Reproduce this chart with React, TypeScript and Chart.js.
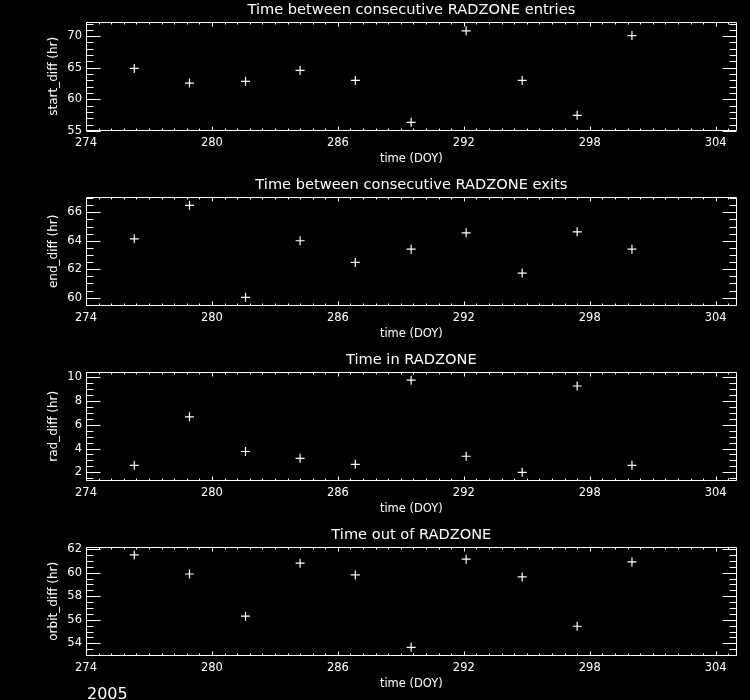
import React, { useEffect, useRef } from "react";
import { Chart, registerables } from "chart.js";

Chart.register(...registerables);

// ---- data ----
const DOY = [276.3, 278.93, 281.6, 284.2, 286.83, 289.49, 292.11, 294.78, 297.4, 300.01];
const START_DIFF = [64.9, 62.58, 62.85, 64.58, 63.0, 56.37, 70.84, 63.0, 57.48, 70.1];
const END_DIFF = [64.14, 66.49, 60.03, 64.0, 62.48, 63.41, 64.56, 61.73, 64.63, 63.41];
const RAD_DIFF = [2.59, 6.67, 3.75, 3.18, 2.67, 9.75, 3.35, 2.0, 9.26, 2.59];
const ORBIT_DIFF = [61.51, 59.89, 56.31, 60.81, 59.81, 53.66, 61.15, 59.64, 55.45, 60.92];

const X_TICKS = [274, 280, 286, 292, 298, 304];
const X_RANGE = [274, 305];
const X_MINOR = 0.6;

const TITLES = [
  "Time between consecutive RADZONE entries",
  "Time between consecutive RADZONE exits",
  "Time in RADZONE",
  "Time out of RADZONE",
];
const Y_LABELS = ["start_diff (hr)", "end_diff (hr)", "rad_diff (hr)", "orbit_diff (hr)"];
const Y_TICKS = [
  [55, 60, 65, 70],
  [60, 62, 64, 66],
  [2, 4, 6, 8, 10],
  [54, 56, 58, 60, 62],
];
const Y_RANGES = [
  [55, 72.3],
  [59.42, 67.1],
  [1.27, 10.47],
  [52.92, 62.22],
];
const Y_MINOR = [1, 0.5, 0.5, 0.5];
const SERIES = [START_DIFF, END_DIFF, RAD_DIFF, ORBIT_DIFF];
const YEAR_LABEL = "2005";

const FONT = "DejaVu Sans";
const W = 750;
const H = 175;

function makeFramePlugin(idx: number) {
  const yMinor = Y_MINOR[idx];
  const yTicks = Y_TICKS[idx];
  return {
    id: "idlFrame" + idx,
    afterDatasetsDraw(chart: any) {
      const { ctx, chartArea: a } = chart;
      const xs = chart.scales.x;
      const ys = chart.scales.y;
      ctx.save();
      ctx.strokeStyle = "#ffffff";
      ctx.lineWidth = 1;
      ctx.beginPath();
      const L = Math.round(a.left) + 0.5;
      const R = Math.round(a.right) - 0.5;
      const T = Math.round(a.top) + 0.5;
      const B = Math.round(a.bottom) - 0.5;
      ctx.rect(L, T, R - L, B - T);
      // x ticks (major + minor), inward on bottom and top
      const xmin = xs.min;
      const xmax = xs.max;
      for (let i = 0; ; i++) {
        const v = xmin + i * X_MINOR;
        if (v > xmax + 1e-9) break;
        const major = X_TICKS.some((t) => Math.abs(t - v) < 1e-6);
        const len = major ? 4 : 2;
        const px = Math.round(xs.getPixelForValue(v)) + 0.5;
        ctx.moveTo(px, B);
        ctx.lineTo(px, B - len);
        ctx.moveTo(px, T);
        ctx.lineTo(px, T + len);
      }
      // y ticks (major + minor), inward on left and right
      const ymin = ys.min;
      const ymax = ys.max;
      const start = Math.ceil(ymin / yMinor - 1e-9) * yMinor;
      for (let i = 0; ; i++) {
        const v = start + i * yMinor;
        if (v > ymax + 1e-9) break;
        const major = yTicks.some((t) => Math.abs(t - v) < 1e-6);
        const len = major ? 14 : 7;
        const py = Math.round(ys.getPixelForValue(v)) + 0.5;
        ctx.moveTo(L, py);
        ctx.lineTo(L + len, py);
        ctx.moveTo(R, py);
        ctx.lineTo(R - len, py);
      }
      ctx.stroke();
      if (idx === 3) {
        ctx.fillStyle = "#ffffff";
        ctx.font = `16px "${FONT}"`;
        ctx.textAlign = "left";
        ctx.textBaseline = "alphabetic";
        ctx.fillText(YEAR_LABEL, 87, 174);
      }
      ctx.restore();
    },
  };
}

function Panel({ idx }: { idx: number }) {
  const ref = useRef<HTMLCanvasElement | null>(null);
  useEffect(() => {
    if (!ref.current) return;
    const vals = SERIES[idx];
    const chart = new Chart(ref.current, {
      type: "scatter",
      data: {
        datasets: [
          {
            data: DOY.map((x, i) => ({ x, y: vals[i] })),
            pointStyle: "cross",
            pointRadius: 4.5,
            borderColor: "#ffffff",
            backgroundColor: "#ffffff",
            borderWidth: 1.2,
            showLine: false,
          } as any,
        ],
      },
      plugins: [makeFramePlugin(idx)],
      options: {
        responsive: false,
        animation: false,
        devicePixelRatio: 1,
        events: [],
        layout: { padding: { left: 0, right: 13.3, top: 0, bottom: 0 } },
        plugins: {
          legend: { display: false },
          tooltip: { enabled: false },
          title: {
            display: true,
            text: TITLES[idx],
            color: "#ffffff",
            font: { family: FONT, size: 14.6, weight: "normal" },
            padding: { top: 1.5, bottom: 2.6 },
            fullSize: false,
          },
        },
        scales: {
          x: {
            type: "linear",
            min: X_RANGE[0],
            max: X_RANGE[1],
            afterBuildTicks: (s: any) => {
              s.ticks = X_TICKS.map((v) => ({ value: v }));
            },
            afterFit: (s: any) => {
              s.height = 44;
            },
            ticks: {
              color: "#ffffff",
              font: { family: FONT, size: 11.5 },
              padding: 5,
              maxRotation: 0,
              autoSkip: false,
              callback: (v: any) => String(v),
            },
            grid: { display: false, drawTicks: false },
            border: { display: false },
            title: {
              display: true,
              text: "time (DOY)",
              color: "#ffffff",
              font: { family: FONT, size: 11.5 },
              padding: { top: 0, bottom: 8.6 },
            },
          },
          y: {
            type: "linear",
            min: Y_RANGES[idx][0],
            max: Y_RANGES[idx][1],
            afterBuildTicks: (s: any) => {
              s.ticks = Y_TICKS[idx].map((v) => ({ value: v }));
            },
            afterFit: (s: any) => {
              s.width = 86;
            },
            ticks: {
              color: "#ffffff",
              font: { family: FONT, size: 11.5 },
              padding: 4,
              autoSkip: false,
              callback: (v: any) => String(v),
            },
            grid: { display: false, drawTicks: false },
            border: { display: false },
            title: {
              display: true,
              text: Y_LABELS[idx],
              color: "#ffffff",
              font: { family: FONT, size: 12 },
              padding: { top: 46.8, bottom: 0 },
            },
          },
        },
      } as any,
    });
    return () => chart.destroy();
  }, [idx]);
  return (
    <canvas
      ref={ref}
      width={W}
      height={H}
      style={{ position: "absolute", left: 0, top: idx * H, width: W, height: H, display: "block" }}
    />
  );
}

export default function App() {
  return (
    <div
      style={{
        position: "fixed",
        left: 0,
        top: 0,
        width: W,
        height: 700,
        background: "#000000",
        overflow: "hidden",
      }}
    >
      {[0, 1, 2, 3].map((i) => (
        <Panel key={i} idx={i} />
      ))}
    </div>
  );
}
